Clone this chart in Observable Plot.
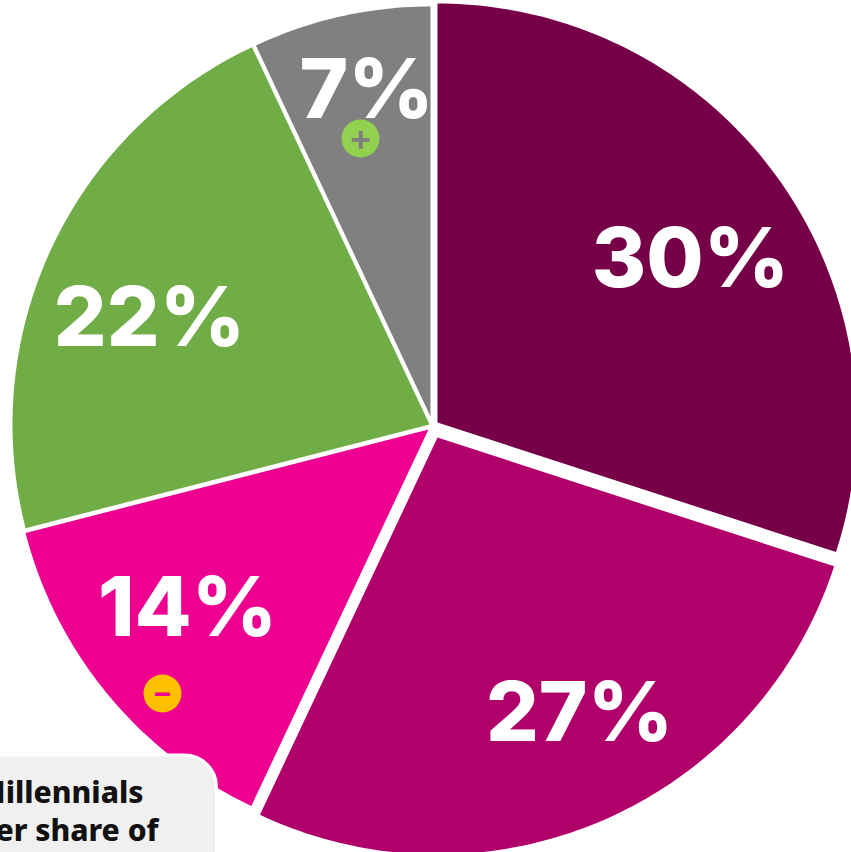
<!DOCTYPE html>
<html>
<head>
<meta charset="utf-8">
<script src="https://cdn.jsdelivr.net/npm/d3@7"></script>
<script src="https://cdn.jsdelivr.net/npm/@observablehq/plot@0.6"></script>
<style>
  html, body { margin: 0; padding: 0; background: #fff; overflow: hidden; }
</style>
</head>
<body>
<div id="chart"></div>
<script>
// Percentage shares, clockwise from twelve o'clock
const shares = [30, 27, 14, 22, 7];
const sliceColors = ["#750047", "#b0006a", "#ee0090", "#70ad47", "#808080"];

// Each wedge sits on its own apex, which opens the white gaps between them
const apexX = [437, 437, 428, 429, 430];
const apexY = [422, 437, 429, 424, 416];
const radii = [419, 417, 416, 417, 410];

// Where each percentage label is centred, and its baseline
const labelX = [690, 579, 187, 149, 366];
const labelY = [286, 740, 635, 345, 117];

// Note box in the lower-left corner
const noteLines = ["Millennials", "larger share of"];
const noteRight = [143, 158];
const noteBaseline = [802, 840];

// Up and down markers
const badgeX = [360, 162];
const badgeY = [138, 693];
const badgeFill = ["#92d050", "#ffc000"];
const badgeGlyph = ["+", "\u2212"];
const badgeGlyphFill = ["#7f7f7f", "#ee0090"];
const badgeGlyphSize = [36, 31];

// Trace every wedge as a closed outline around its apex
const total = d3.sum(shares);
const cumulative = d3.cumsum(shares);
const outline = shares.flatMap((share, i) => {
  const start = ((cumulative[i] - share) / total) * 2 * Math.PI;
  const end = (cumulative[i] / total) * 2 * Math.PI;
  const steps = Math.ceil((end - start) * 60);
  const rim = d3.range(steps + 1).map((k) => {
    const a = start + ((end - start) * k) / steps;
    return {
      share,
      x: apexX[i] + radii[i] * Math.sin(a),
      y: apexY[i] - radii[i] * Math.cos(a)
    };
  });
  return [{share, x: apexX[i], y: apexY[i]}, ...rim];
});

const labelFont = {
  fontFamily: "Inter",
  fontWeight: 800,
  fontSize: 83,
  fill: "#fff",
  lineAnchor: "bottom",
  textAnchor: "middle"
};

const chart = Plot.plot({
  width: 851,
  height: 852,
  margin: 0,
  x: {domain: [0, 851], range: [0, 851], axis: null},
  y: {domain: [0, 852], range: [0, 852], axis: null},
  color: {domain: shares, range: sliceColors},
  style: {background: "#fff"},
  marks: [
    Plot.line(outline, {
      x: "x",
      y: "y",
      z: "share",
      fill: "share",
      stroke: "none",
      curve: "linear-closed"
    }),
    Plot.rect([0], {
      x1: -60,
      x2: 216.5,
      y1: 755,
      y2: 900,
      rx: 32,
      fill: "#f0f0f0",
      stroke: "#fff",
      strokeWidth: 3
    }),
    Plot.text(noteLines, {
      x: (d, i) => noteRight[i],
      y: (d, i) => noteBaseline[i],
      text: (d) => d,
      textAnchor: "end",
      lineAnchor: "bottom",
      fontFamily: "Noto Sans",
      fontWeight: 800,
      fontSize: 30,
      fill: "#111"
    }),
    Plot.text(shares, {
      x: (d, i) => labelX[i],
      y: (d, i) => labelY[i],
      text: (d) => `${d}%`,
      ...labelFont
    }),
    Plot.dot(badgeX, {
      x: (d) => d,
      y: (d, i) => badgeY[i],
      r: 19,
      fill: (d, i) => badgeFill[i]
    }),
    Plot.text(badgeGlyph, {
      x: (d, i) => badgeX[i],
      y: (d, i) => badgeY[i],
      text: (d) => d,
      fontFamily: "Inter",
      fontWeight: 600,
      fontSize: (d, i) => badgeGlyphSize[i],
      fill: (d, i) => badgeGlyphFill[i]
    })
  ]
});

document.getElementById("chart").append(chart);
</script>
</body>
</html>
